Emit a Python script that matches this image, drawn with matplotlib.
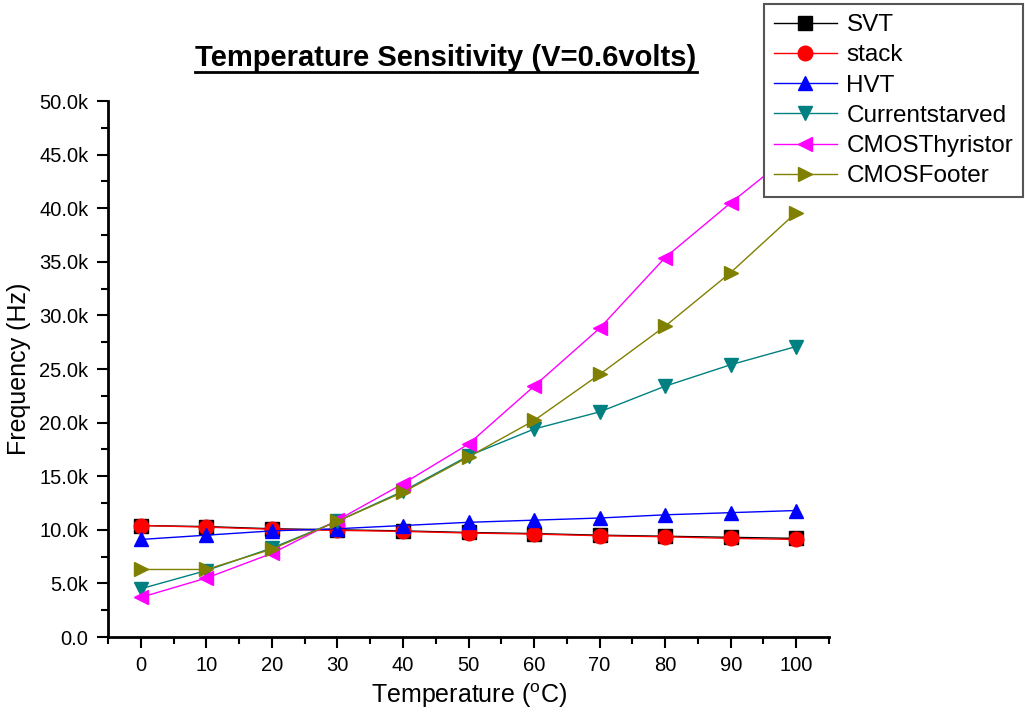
import matplotlib
matplotlib.use("Agg")
import matplotlib.pyplot as plt
from matplotlib.lines import Line2D
from matplotlib.ticker import FuncFormatter, MultipleLocator

plt.rcParams["font.family"] = ["Liberation Sans", "DejaVu Sans"]
plt.rcParams["mathtext.fontset"] = "custom"
plt.rcParams["mathtext.rm"] = "Liberation Sans"

# ---------------- Dados (kHz) ----------------
temperatura = [0, 10, 20, 30, 40, 50, 60, 70, 80, 90, 100]
svt = [10.4, 10.3, 10.1, 10.0, 9.9, 9.75, 9.65, 9.5, 9.4, 9.3, 9.2]
stack = [10.4, 10.25, 10.05, 9.95, 9.85, 9.7, 9.6, 9.45, 9.35, 9.2, 9.1]
hvt = [9.1, 9.5, 9.9, 10.1, 10.4, 10.7, 10.9, 11.1, 11.4, 11.6, 11.8]
currentstarved = [4.5, 6.2, 8.3, 10.8, 13.6, 16.9, 19.4, 21.0, 23.4, 25.4, 27.1]
cmos_thyristor = [3.7, 5.5, 7.8, 10.9, 14.3, 18.0, 23.4, 28.8, 35.4, 40.5, 45.4]
cmos_footer = [6.3, 6.3, 8.2, 10.8, 13.5, 16.8, 20.2, 24.5, 29.0, 34.0, 39.6]

series = [
    ("SVT", svt, "black", "s"),
    ("stack", stack, "red", "o"),
    ("HVT", hvt, "blue", "^"),
    ("Currentstarved", currentstarved, "#008080", "v"),
    ("CMOSThyristor", cmos_thyristor, "magenta", "<"),
    ("CMOSFooter", cmos_footer, "#808000", ">"),
]

fig = plt.figure(figsize=(10.25, 7.18), dpi=100)
ax = fig.add_axes([0.1054, 0.1128, 0.7034, 0.7465])

for nome, vals, cor, mk in series:
    ax.plot(temperatura, [v * 1000 for v in vals], color=cor, marker=mk,
            markersize=10.5, linewidth=1.0, label=nome)

ax.set_xlim(-5, 105)
ax.set_ylim(0, 50000)
ax.xaxis.set_major_locator(MultipleLocator(10))
ax.xaxis.set_minor_locator(MultipleLocator(5))
ax.yaxis.set_major_locator(MultipleLocator(5000))
ax.yaxis.set_minor_locator(MultipleLocator(2500))
ax.yaxis.set_major_formatter(FuncFormatter(
    lambda v, p: "0.0" if v == 0 else f"{v / 1000:.1f}k"))

for lado in ("top", "right"):
    ax.spines[lado].set_visible(False)
for lado in ("left", "bottom"):
    ax.spines[lado].set_linewidth(2)
ax.tick_params(which="major", length=8, width=1.5, labelsize=14.5,
               direction="out", pad=6)
ax.tick_params(which="minor", length=5, width=1.5, direction="out")

ax.set_xlabel("Temperature ($^{\\mathregular{o}}$C)", fontsize=18, labelpad=4)
ax.set_ylabel("Frequency (Hz)", fontsize=18, labelpad=6)

titulo = fig.text(0.435, 0.908, "Temperature Sensitivity (V=0.6volts)",
                  ha="center", va="baseline", fontsize=21, fontweight="bold")

# sublinhado do título
fig.canvas.draw()
bb = titulo.get_window_extent().transformed(fig.transFigure.inverted())
y_sub = 0.908 - 0.008
fig.add_artist(Line2D([bb.x0, bb.x1], [y_sub, y_sub], transform=fig.transFigure,
                      color="black", linewidth=2.0))

leg = fig.legend(loc="upper right", bbox_to_anchor=(0.998, 0.994), fontsize=17.5,
                 frameon=True, fancybox=False, edgecolor="#555555",
                 handlelength=2.6, labelspacing=0.34, borderpad=0.4,
                 handletextpad=0.4, framealpha=1, borderaxespad=0)
leg.get_frame().set_linewidth(1.5)

fig.savefig("out.png", dpi=100)
